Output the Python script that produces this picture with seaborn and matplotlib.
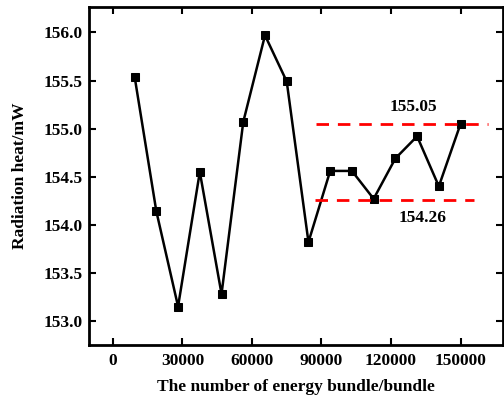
import matplotlib
matplotlib.use("Agg")
import matplotlib.pyplot as plt
import seaborn as sns
import pandas as pd

bundles = [9375, 18750, 28125, 37500, 46875, 56250, 65625, 75000,
           84375, 93750, 103125, 112500, 121875, 131250, 140625, 150000]
heat = [155.54, 154.14, 153.15, 154.55, 153.28, 155.07, 155.97, 155.49,
        153.82, 154.56, 154.56, 154.27, 154.69, 154.92, 154.40, 155.05]
upper_value = 155.05
lower_value = 154.26
upper_span = [87800, 161800]
lower_span = [87400, 156000]
x_ticks = [0, 30000, 60000, 90000, 120000, 150000]
y_ticks = [153.0, 153.5, 154.0, 154.5, 155.0, 155.5, 156.0]

sns.set_theme(style="ticks")
plt.rcParams['font.family'] = ['Liberation Serif', 'DejaVu Serif']
plt.rcParams['font.weight'] = 'bold'
plt.rcParams['text.color'] = 'black'
plt.rcParams['axes.labelcolor'] = 'black'
plt.rcParams['xtick.color'] = 'black'
plt.rcParams['ytick.color'] = 'black'
plt.rcParams['axes.edgecolor'] = 'black'

df = pd.DataFrame({"bundle": bundles, "heat": heat})

fig = plt.figure(figsize=(5.04, 3.97), dpi=100)
ax = fig.add_axes([0.1766, 0.131, 0.8214, 0.851])

sns.lineplot(data=df, x="bundle", y="heat", ax=ax, color="black",
             linewidth=1.8, marker="s", markersize=5.5, markeredgecolor="black",
             markerfacecolor="black")

ax.plot(upper_span, [upper_value, upper_value], color="red", linestyle=(0, (4.5, 3.2)),
        linewidth=2.0)
ax.plot(lower_span, [lower_value, lower_value], color="red", linestyle=(0, (4.5, 3.2)),
        linewidth=2.0)
ax.text(129500, upper_value + 0.17, f"{upper_value:.2f}", ha="center", va="center",
        fontsize=12.5, fontweight="bold", color="black")
ax.text(133800, lower_value - 0.19, f"{lower_value:.2f}", ha="center", va="center",
        fontsize=12.5, fontweight="bold", color="black")

ax.set_xlim(-10300, 168300)
ax.set_ylim(152.75, 156.263)
ax.set_xticks(x_ticks)
ax.set_xticklabels([str(v) for v in x_ticks])
ax.set_yticks(y_ticks)
ax.set_yticklabels([f"{v:.1f}" for v in y_ticks])

ax.set_xlabel("The number of energy bundle/bundle", fontsize=12.5, fontweight="bold",
              labelpad=7, color="black")
ax.set_ylabel("Radiation heat/mW", fontsize=12.5, fontweight="bold", labelpad=11,
              color="black")

for s in ax.spines.values():
    s.set_linewidth(2.0)
    s.set_color("black")
    s.set_visible(True)
ax.tick_params(direction="in", length=5, width=1.5, top=True, right=True,
               labeltop=False, labelright=False, labelsize=12.5, colors="black")
ax.tick_params(axis="x", pad=6)
ax.tick_params(axis="y", pad=4.5)
for lab in ax.get_xticklabels() + ax.get_yticklabels():
    lab.set_fontweight("bold")

fig.savefig("out.png", dpi=100)
